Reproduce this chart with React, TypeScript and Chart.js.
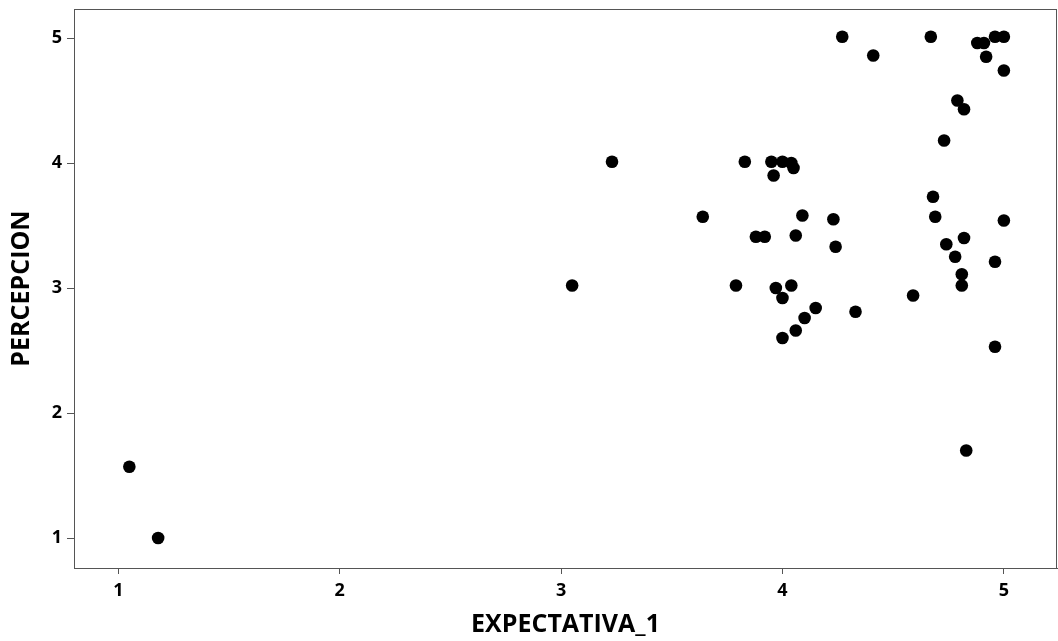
import React, { useEffect, useRef } from "react";
import { Chart, registerables } from "chart.js";

Chart.register(...registerables);

const expectativa: number[] = [
  1.05, 1.18, 3.05, 3.23, 3.64, 3.79, 3.83, 3.95, 4.0, 4.04,
  4.05, 3.96, 4.09, 4.23, 3.88, 3.92, 4.06, 4.24, 3.97, 4.04,
  4.0, 4.15, 4.1, 4.33, 4.06, 4.0, 4.27, 4.41, 4.67, 4.88,
  4.91, 4.96, 5.0, 4.92, 5.0, 4.79, 4.82, 4.73, 4.68, 4.69,
  5.0, 4.82, 4.74, 4.78, 4.96, 4.81, 4.81, 4.59, 4.96, 4.83,
];
const percepcion: number[] = [
  1.57, 1.0, 3.02, 4.01, 3.57, 3.02, 4.01, 4.01, 4.01, 4.0,
  3.96, 3.9, 3.58, 3.55, 3.41, 3.41, 3.42, 3.33, 3.0, 3.02,
  2.92, 2.84, 2.76, 2.81, 2.66, 2.6, 5.01, 4.86, 5.01, 4.96,
  4.96, 5.01, 5.01, 4.85, 4.74, 4.5, 4.43, 4.18, 3.73, 3.57,
  3.54, 3.4, 3.35, 3.25, 3.21, 3.11, 3.02, 2.94, 2.53, 1.7,
];
const xTicks: number[] = [1, 2, 3, 4, 5];
const yTicks: number[] = [1, 2, 3, 4, 5];
const xTitle = "EXPECTATIVA_1";
const yTitle = "PERCEPCION";

const FONT = "'Open Sans', 'DejaVu Sans', sans-serif";
const AXIS = "#555555";

const frame = {
  id: "frame",
  afterDraw(chart: any) {
    const { ctx, chartArea } = chart;
    ctx.save();
    ctx.strokeStyle = AXIS;
    ctx.lineWidth = 1;
    ctx.strokeRect(
      Math.round(chartArea.left) + 0.5,
      Math.round(chartArea.top) + 0.5,
      Math.round(chartArea.right - chartArea.left) - 1,
      Math.round(chartArea.bottom - chartArea.top)
    );
    ctx.restore();
  },
};

export default function App() {
  const ref = useRef<HTMLCanvasElement | null>(null);
  useEffect(() => {
    if (!ref.current) return;
    const points = expectativa.map((x, i) => ({ x, y: percepcion[i] }));
    const chart = new Chart(ref.current, {
      type: "scatter",
      data: {
        datasets: [
          {
            data: points,
            backgroundColor: "#000000",
            borderColor: "#000000",
            borderWidth: 0,
            pointRadius: 6.3,
            pointHoverRadius: 6.3,
          },
        ],
      },
      options: {
        animation: false,
        responsive: false,
        maintainAspectRatio: false,
        layout: { autoPadding: false, padding: { top: 9, right: 1, left: 0, bottom: 0 } },
        plugins: { legend: { display: false }, tooltip: { enabled: false } },
        scales: {
          x: {
            type: "linear",
            min: 0.8,
            max: 5.24,
            afterBuildTicks: (s: any) => {
              s.ticks = xTicks.map((v) => ({ value: v }));
            },
            afterFit: (s: any) => {
              s.height = 73;
              s.paddingLeft = 0;
              s.paddingRight = 0;
            },
            grid: {
              display: true,
              drawOnChartArea: false,
              drawTicks: true,
              tickLength: 6,
              color: AXIS,
            },
            border: { display: true, color: AXIS, width: 1 },
            ticks: {
              color: "#000000",
              padding: 6,
              font: { family: FONT, size: 18, weight: "bold" },
              maxRotation: 0,
            },
            title: {
              display: true,
              text: xTitle,
              color: "#000000",
              font: { family: FONT, size: 25, weight: "bold" },
              padding: { top: 0, bottom: 1 },
            },
          },
          y: {
            type: "linear",
            min: 0.76,
            max: 5.232,
            afterBuildTicks: (s: any) => {
              s.ticks = yTicks.map((v) => ({ value: v }));
            },
            afterFit: (s: any) => {
              s.width = 74;
              s.paddingTop = 0;
              s.paddingBottom = 0;
            },
            grid: {
              display: true,
              drawOnChartArea: false,
              drawTicks: true,
              tickLength: 7,
              color: AXIS,
            },
            border: { display: true, color: AXIS, width: 1 },
            ticks: {
              color: "#000000",
              padding: 5,
              font: { family: FONT, size: 18, weight: "bold" },
            },
            title: {
              display: true,
              text: yTitle,
              color: "#000000",
              font: { family: FONT, size: 25, weight: "bold" },
              padding: { top: 7, bottom: 0 },
            },
          },
        },
      },
      plugins: [frame],
    });
    return () => chart.destroy();
  }, []);
  return (
    <div style={{ position: "fixed", left: 0, top: 0, width: 1058, height: 641, background: "#fff" }}>
      <canvas ref={ref} width={1058} height={641} style={{ display: "block" }} />
    </div>
  );
}
